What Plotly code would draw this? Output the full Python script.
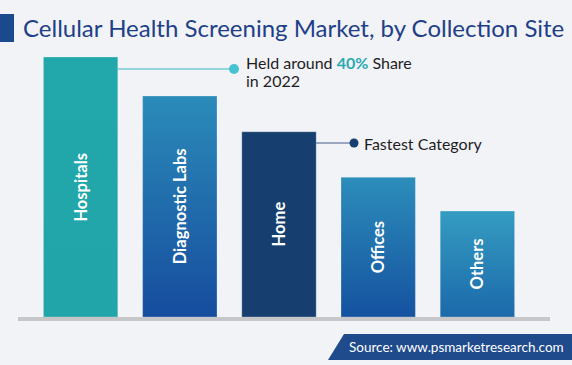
import plotly.graph_objects as go

categories = ["Hospitals", "Diagnostic Labs", "Home", "Offices", "Others"]
values = [40, 34, 28.5, 21.5, 16.3]
top_colors = ["#22a7ab", "#2b8bb9", "#163f6f", "#2c8dba", "#359cc1"]
bottom_colors = ["#21a5a9", "#164c9e", "#163f6f", "#1552a0", "#1b69aa"]

W, H = 572, 365
ML, MR, MT, MB = 31, 45, 44, 48
PW, PH = W - ML - MR, H - MT - MB
BAR_W = 0.75
FONT = "Lato"


def px(x):
    return (x - ML) / PW


def py(y):
    return (H - MB - y) / PH


fig = go.Figure()
annotations = []

for i, (cat, v) in enumerate(zip(categories, values)):
    x0, x1 = i - BAR_W / 2, i + BAR_W / 2
    fig.add_trace(go.Scatter(
        x=[x0, x1, x1, x0, x0], y=[0, 0, v, v, 0],
        mode="lines", fill="toself",
        line=dict(color="rgba(255,255,255,0.25)", width=1),
        fillgradient=dict(type="vertical",
                          colorscale=[[0, bottom_colors[i]], [1, top_colors[i]]]),
        hoverinfo="skip", showlegend=False,
    ))
    annotations.append(dict(x=i, y=v / 2, xref="x", yref="y", text="<b>%s</b>" % cat,
                            textangle=-90, showarrow=False,
                            font=dict(family=FONT, size=16.5, color="white")))

shapes = [
    dict(type="rect", xref="paper", yref="paper", x0=px(0), x1=px(14), y0=py(42), y1=py(14),
         fillcolor="#1a4a8e", line=dict(width=0), layer="above"),
    dict(type="line", xref="paper", yref="paper", x0=px(18), x1=px(550), y0=py(319), y1=py(319),
         line=dict(color="#c7c7c9", width=4), layer="above"),
    dict(type="path", xref="paper", yref="paper",
         path="M %f,%f L %f,%f L %f,%f L %f,%f Z" % (px(328), py(360), px(344), py(334),
                                                     px(572), py(334), px(572), py(360)),
         fillcolor="#1f4a8c", line=dict(width=0)),
    dict(type="line", xref="paper", yref="paper", x0=px(118), x1=px(234), y0=py(69), y1=py(69),
         line=dict(color="#93d6de", width=2)),
    dict(type="line", xref="paper", yref="paper", x0=px(316), x1=px(354), y0=py(143), y1=py(143),
         line=dict(color="#7b8eac", width=1.5)),
    dict(type="circle", xref="paper", yref="paper", x0=px(229), x1=px(239), y0=py(74), y1=py(64),
         fillcolor="#47c2d2", line=dict(width=0)),
    dict(type="circle", xref="paper", yref="paper", x0=px(349.5), x1=px(358.5), y0=py(147.5), y1=py(138.5),
         fillcolor="#163f6f", line=dict(width=0)),
]

annotations += [
    dict(xref="paper", yref="paper", x=px(21), y=py(28), xanchor="left", yanchor="middle",
         text="Cellular Health Screening Market, by Collection Site", showarrow=False,
         font=dict(family=FONT, size=24, color="#1e4087")),
    dict(xref="paper", yref="paper", x=px(244), y=py(63), xanchor="left", yanchor="middle",
         text="Held around <b><span style='color:#2aa9b0'>40%</span></b> Share", showarrow=False,
         font=dict(family=FONT, size=16, color="#1e1e1e")),
    dict(xref="paper", yref="paper", x=px(244), y=py(80), xanchor="left", yanchor="middle",
         text="in 2022", showarrow=False,
         font=dict(family=FONT, size=16, color="#1e1e1e")),
    dict(xref="paper", yref="paper", x=px(362), y=py(143), xanchor="left", yanchor="middle",
         text="Fastest Category", showarrow=False,
         font=dict(family=FONT, size=16, color="#1e1e1e")),
    dict(xref="paper", yref="paper", x=px(347), y=py(347), xanchor="left", yanchor="middle",
         text="Source: www.psmarketresearch.com", showarrow=False,
         font=dict(family=FONT, size=13.5, color="white")),
]

fig.update_layout(
    width=W, height=H,
    margin=dict(l=ML, r=MR, t=MT, b=MB),
    paper_bgcolor="#f2f3f7", plot_bgcolor="#f2f3f7",
    xaxis=dict(range=[-0.5, 4.5], visible=False, fixedrange=True),
    yaxis=dict(range=[0, 42], visible=False, fixedrange=True),
    shapes=shapes, annotations=annotations,
    showlegend=False,
)

fig.write_html("out.html", config={"displayModeBar": False},
               post_script="document.body.style.margin='0';")
